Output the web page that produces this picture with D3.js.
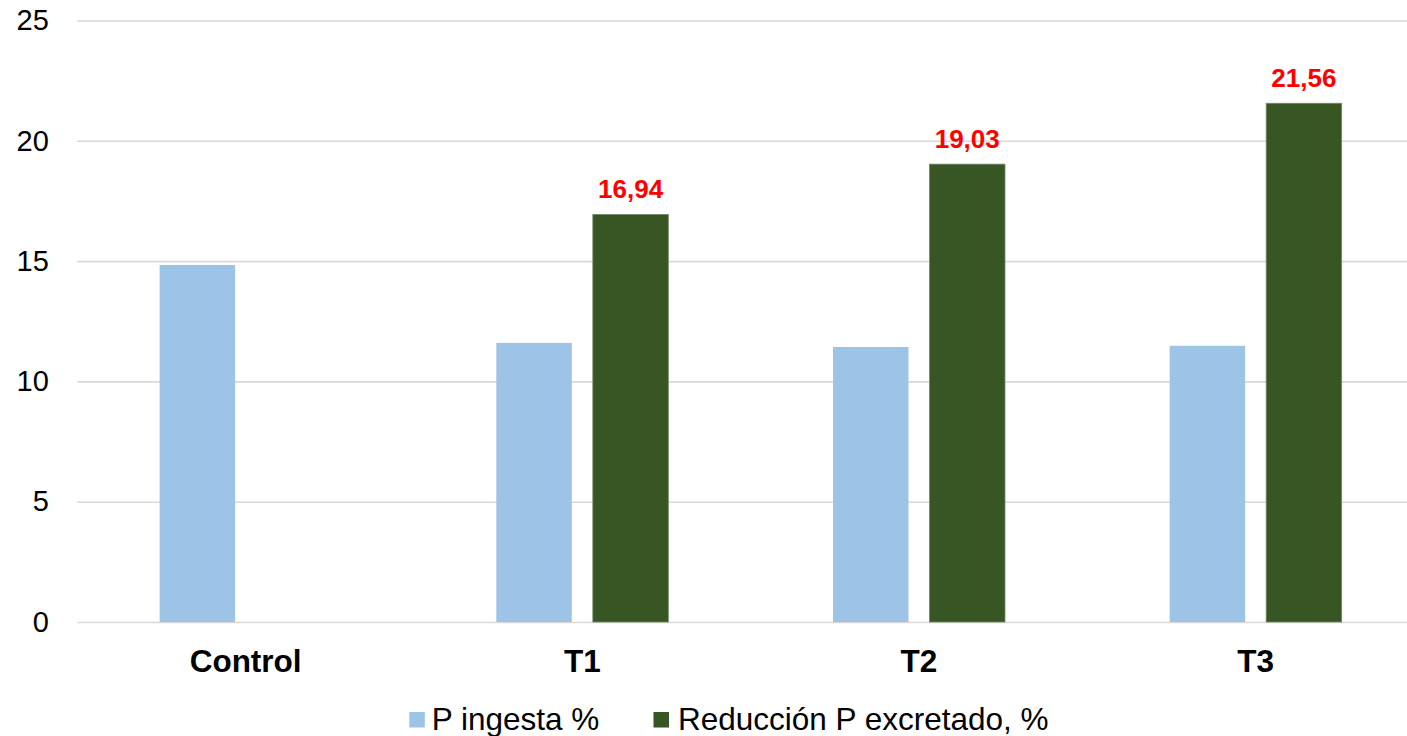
<!DOCTYPE html>
<html>
<head>
<meta charset="utf-8">
<script src="https://cdn.jsdelivr.net/npm/d3@7"></script>
<style>
  html, body { margin: 0; padding: 0; background: #fff; }
  svg { display: block; font-family: "Liberation Sans", Arial, sans-serif; }
</style>
</head>
<body>
<svg id="chart" width="1407" height="736"></svg>
<script>
// Grupos de tratamiento y series
const categories = ["Control", "T1", "T2", "T3"];
const seriesNames = ["P ingesta %", "Reducción P excretado, %"];
const pIngesta = [14.84, 11.60, 11.43, 11.48];
const reduccionP = [null, 16.94, 19.03, 21.56];
const yTicks = [0, 5, 10, 15, 20, 25];
const colors = ["#9dc3e6", "#375623"];

const W = 1407, H = 736;
const plotLeft = 77.3, plotRight = 1424, plotTop = 20.5, plotBottom = 622;

const svg = d3.select("#chart");

const x0 = d3.scaleBand().domain(categories).range([plotLeft, plotRight]).padding(0);
const groupW = 172;
const x1 = d3.scaleBand().domain(seriesNames)
  .range([(x0.bandwidth() - groupW) / 2, (x0.bandwidth() + groupW) / 2])
  .paddingInner(0.218).paddingOuter(0);
const y = d3.scaleLinear().domain([0, 25]).range([plotBottom, plotTop]);

// Eje Y con líneas de cuadrícula
const yAxis = d3.axisLeft(y).tickValues(yTicks).tickSize(-(W - plotLeft)).tickPadding(28.5)
  .tickFormat(d3.format("d"));
const gy = svg.append("g").attr("transform", `translate(${plotLeft},0)`).call(yAxis);
gy.select(".domain").remove();
gy.selectAll(".tick line").attr("stroke", "#d9d9d9").attr("stroke-width", 1.6);
gy.selectAll(".tick text").attr("fill", "#000").style("font-size", "29px");

// Barras
const rows = categories.map((c, i) => ({ cat: c, vals: [pIngesta[i], reduccionP[i]] }));
const groups = svg.append("g").selectAll("g").data(rows).join("g")
  .attr("transform", d => `translate(${x0(d.cat)},0)`);

groups.selectAll("rect")
  .data(d => d.vals.map((v, k) => ({ s: seriesNames[k], v, k })).filter(e => e.v != null))
  .join("rect")
  .attr("x", e => x1(e.s))
  .attr("width", x1.bandwidth())
  .attr("y", e => y(e.v))
  .attr("height", e => y(0) - y(e.v))
  .attr("fill", e => colors[e.k])
  .attr("stroke", e => e.k === 1 ? "#6f8a63" : "none")
  .attr("stroke-width", 0.8);

// Etiquetas de valor de la reducción
const fmt = v => d3.format(".2f")(v).replace(".", ",");
groups.selectAll("text.val")
  .data(d => d.vals[1] != null ? [d.vals[1]] : [])
  .join("text")
  .attr("class", "val")
  .attr("x", x1(seriesNames[1]) + x1.bandwidth() / 2)
  .attr("y", v => y(v) - 16.5)
  .attr("text-anchor", "middle")
  .attr("fill", "#ff0000")
  .style("font-size", "26px")
  .style("font-weight", "bold")
  .text(fmt);

// Etiquetas de categoría
svg.append("g").selectAll("text").data(categories).join("text")
  .attr("x", c => x0(c) + x0.bandwidth() / 2)
  .attr("y", 671.5)
  .attr("text-anchor", "middle")
  .attr("fill", "#000")
  .style("font-size", "31.5px")
  .style("font-weight", "bold")
  .text(c => c);

// Leyenda
const legendX = [409.3, 653.5];
const lg = svg.append("g").selectAll("g").data(seriesNames).join("g")
  .attr("transform", (d, i) => `translate(${legendX[i]},0)`);
lg.append("rect").attr("x", 0).attr("y", 712).attr("width", 15.5).attr("height", 15.5)
  .attr("fill", (d, i) => colors[i]);
lg.append("text").attr("x", (d, i) => i === 0 ? 22.4 : 24.5).attr("y", 729.5)
  .attr("fill", "#000").style("font-size", "31.5px").text(d => d);
</script>
</body>
</html>
